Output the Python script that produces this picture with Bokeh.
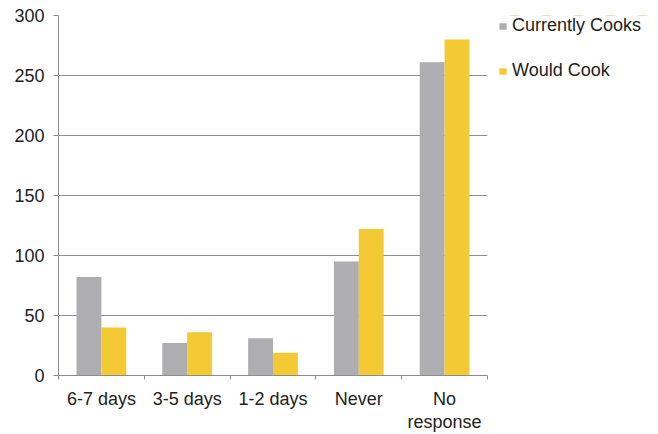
from bokeh.plotting import figure
from bokeh.layouts import row
from bokeh.models import (Range1d, FixedTicker, LinearAxis, Legend, LegendItem, ColumnDataSource)
from bokeh.transform import dodge
from bokeh.embed import file_html
from bokeh.resources import INLINE

categories = ["6-7 days", "3-5 days", "1-2 days", "Never", "No\nresponse"]
currently_cooks = [82, 27, 31, 95, 261]
would_cook = [40, 36, 19, 122, 280]
y_ticks = [0, 50, 100, 150, 200, 250, 300]
series_names = ["Currently Cooks", "Would Cook"]

GRAY = "#aeaeb2"
YELLOW = "#f3ca34"
FONT = "Liberation Sans"
TEXT = "#222222"

n = len(categories)
slot_centers = [i + 0.5 for i in range(n)]
slot_edges = list(range(n + 1))
src = ColumnDataSource(dict(x=slot_centers, cur=currently_cooks, would=would_cook))

p = figure(width=490, height=434, x_range=Range1d(0, n), y_range=Range1d(0, 300),
           output_backend="svg", toolbar_location=None, x_axis_location=None,
           min_border_left=58, min_border_top=15, min_border_right=3, min_border_bottom=59)
p.outline_line_color = None
p.background_fill_color = "white"

r1 = p.vbar(x=dodge("x", -0.145), top="cur", width=0.29, source=src,
            fill_color=GRAY, line_color=None)
r2 = p.vbar(x=dodge("x", 0.145), top="would", width=0.29, source=src,
            fill_color=YELLOW, line_color=None)

# y axis
yax = p.yaxis[0]
yax.ticker = FixedTicker(ticks=y_ticks)
yax.minor_tick_line_color = None
yax.major_tick_in = 0
yax.major_tick_out = 5
yax.axis_line_color = "#8c8c8c"
yax.major_tick_line_color = "#8c8c8c"
yax.major_label_text_font = FONT
yax.major_label_text_font_size = "18px"
yax.major_label_text_color = TEXT
yax.major_label_standoff = 9

p.ygrid.ticker = FixedTicker(ticks=y_ticks)
p.ygrid.grid_line_color = "#8f8f8f"
p.ygrid.grid_line_width = 1
p.xgrid.grid_line_color = None

# x axis: tick marks at category boundaries
tick_axis = LinearAxis(ticker=FixedTicker(ticks=slot_edges),
                       major_label_overrides={e: "" for e in slot_edges},
                       major_label_text_font_size="1px", major_label_standoff=0,
                       major_tick_in=0, major_tick_out=4, minor_tick_line_color=None,
                       axis_line_color="#8c8c8c", major_tick_line_color="#8c8c8c")
p.add_layout(tick_axis, "below")

# category labels at slot centers
label_axis = LinearAxis(ticker=FixedTicker(ticks=slot_centers),
                        major_label_overrides={c: lab for c, lab in zip(slot_centers, categories)},
                        axis_line_color=None, major_tick_line_color=None, minor_tick_line_color=None,
                        major_tick_in=0, major_tick_out=0,
                        major_label_text_font=FONT, major_label_text_font_size="18px",
                        major_label_text_color=TEXT, major_label_standoff=9,
                        major_label_text_line_height=1.15)
p.add_layout(label_axis, "below")

# legend panel to the right (its bars lie outside its visible range; only the legend shows)
pl = figure(width=168, height=434, x_range=Range1d(0, n), y_range=Range1d(-2, -1),
            output_backend="svg", toolbar_location=None,
            x_axis_location=None, y_axis_location=None,
            min_border_left=8, min_border_right=0, min_border_top=0, min_border_bottom=0)
pl.outline_line_color = None
pl.xgrid.visible = False
pl.ygrid.visible = False
l1 = pl.vbar(x="x", top="cur", width=0.29, source=src, fill_color=GRAY, line_color=None)
l2 = pl.vbar(x="x", top="would", width=0.29, source=src, fill_color=YELLOW, line_color=None)

legend = Legend(items=[LegendItem(label=series_names[0], renderers=[l1], index=0),
                       LegendItem(label=series_names[1], renderers=[l2], index=0)],
                location="top_left", orientation="vertical",
                glyph_width=9, glyph_height=8, label_standoff=5, label_height=20,
                spacing=24, padding=12, margin=0, border_line_color=None,
                background_fill_alpha=0,
                label_text_font=FONT, label_text_font_size="18px", label_text_color=TEXT)
pl.add_layout(legend, "center")

layout = row(p, pl, spacing=0)
open("out.html", "w").write(file_html(layout, INLINE))
